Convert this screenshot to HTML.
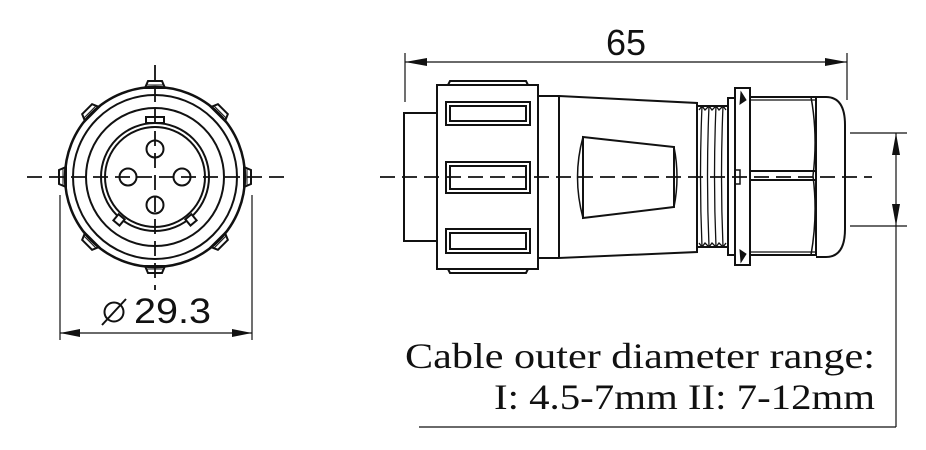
<!DOCTYPE html>
<html><head><meta charset="utf-8"><style>
html,body{margin:0;padding:0;background:#fff;}
svg{display:block;}
</style></head><body>
<svg width="926" height="450" viewBox="0 0 926 450" xmlns="http://www.w3.org/2000/svg">
<defs>
<g id="bump"><path d="M-10,-89 L-7,-96 L7,-96 L10,-89 Z" fill="#fff" stroke="#111" stroke-width="2"/><line x1="-8" y1="-92" x2="8" y2="-92" stroke="#111" stroke-width="1"/></g>
</defs>
<g fill="none" stroke="#111" stroke-width="2">
<!-- LEFT VIEW -->
<g transform="translate(155,177)">
 <g><use href="#bump"/><use href="#bump" transform="rotate(45)"/><use href="#bump" transform="rotate(90)"/><use href="#bump" transform="rotate(135)"/><use href="#bump" transform="rotate(180)"/><use href="#bump" transform="rotate(225)"/><use href="#bump" transform="rotate(270)"/><use href="#bump" transform="rotate(315)"/></g>
 <circle r="90" stroke-width="2.5"/>
 <circle r="82"/>
 <circle r="69"/>
 <circle r="54"/>
 <circle r="50"/>
 <rect x="-9" y="-60" width="18" height="6" fill="#fff"/>
 <rect x="-4" y="-3" width="8" height="8" transform="rotate(-40) translate(0,55)" fill="#fff"/>
 <rect x="-4" y="-3" width="8" height="8" transform="rotate(40) translate(0,55)" fill="#fff"/>
 <circle cx="0" cy="-28" r="8.5"/>
 <circle cx="0" cy="28" r="8.5"/>
 <circle cx="-27" cy="0" r="8.5"/>
 <circle cx="27" cy="0" r="8.5"/>
</g>
<line x1="27" y1="177" x2="285" y2="177" stroke-dasharray="15,7" stroke-width="1.8"/>
<line x1="155" y1="65" x2="155" y2="290" stroke-dasharray="15,7" stroke-width="1.8"/>
<line x1="60" y1="195" x2="60" y2="340" stroke-width="1.2"/>
<line x1="252" y1="195" x2="252" y2="340" stroke-width="1.2"/>
<line x1="60" y1="333" x2="252" y2="333" stroke-width="1.2"/>
<!-- diameter symbol -->
<circle cx="114" cy="312" r="9.5" stroke-width="2"/>
<line x1="102" y1="325" x2="126" y2="299" stroke-width="2"/>

<!-- RIGHT VIEW -->
<line x1="405" y1="53" x2="405" y2="102" stroke-width="1.2"/>
<line x1="847" y1="53" x2="847" y2="100" stroke-width="1.2"/>
<line x1="405" y1="62" x2="847" y2="62" stroke-width="1.2"/>

<rect x="404" y="113" width="33" height="128"/>
<path d="M448,85 L450,81 L526,81 L528,85 M448,269 L450,273 L526,273 L528,269"/>
<rect x="437" y="85" width="101" height="184" fill="#fff"/>
<rect x="446" y="102" width="84" height="23"/><rect x="450" y="106" width="76" height="15"/>
<rect x="446" y="162" width="84" height="31"/><rect x="450" y="166" width="76" height="23"/>
<rect x="446" y="229" width="84" height="24"/><rect x="450" y="233" width="76" height="16"/>
<path d="M538,96 L559,96 M538,258 L559,258"/>
<path d="M559,96 L697,103 L697,252 L559,258 Z"/>
<path d="M583,137 L674,147 L674,207 L583,218 Z"/>
<path d="M583,137 Q572,177 583,218 M674,147 Q680,177 674,207" stroke-width="1.5"/>
<!-- thread -->
<path d="M697,106 L728,106 M697,247 L728,247"/>
<path d="M702,106 q-3,70 0,141 M709,106 q-3,70 0,141 M716,106 q-3,70 0,141 M723,106 q-3,70 0,141" stroke-width="1.3"/>
<path d="M699,110 l3,-4 l3,4 l4,-4 l3,4 l4,-4 l3,4 l4,-4 l3,4 M699,243 l3,4 l3,-4 l4,4 l3,-4 l4,4 l3,-4 l4,4 l3,-4" stroke-width="1.3"/>
<line x1="728" y1="106" x2="728" y2="247"/>
<!-- flange -->
<rect x="728" y="98" width="7" height="157"/>
<rect x="735" y="88" width="15" height="177"/>
<path d="M741,92 L746,100 L740,104 Z M741,262 L746,254 L740,250 Z" fill="#111" stroke-width="1"/>
<path d="M735,170 L740,170 L740,184 L735,184" stroke-width="1.5"/>
<!-- hex -->
<rect x="750" y="97" width="66" height="158"/>
<line x1="750" y1="100" x2="816" y2="100" stroke-width="1.2"/>
<line x1="750" y1="252" x2="816" y2="252" stroke-width="1.2"/>
<line x1="750" y1="171" x2="816" y2="171"/>
<line x1="750" y1="180" x2="816" y2="180"/>
<path d="M811,97 Q818,135 813,176 Q818,215 811,255" stroke-width="1.5"/>
<path d="M816,97 L826,97 Q845,97 845,125 L845,229 Q845,257 826,257 L816,257"/>
<line x1="380" y1="177" x2="872" y2="177" stroke-dasharray="15,7" stroke-width="1.8"/>
<!-- right dim -->
<line x1="850" y1="133" x2="907" y2="133" stroke-width="1.2"/>
<line x1="850" y1="226" x2="907" y2="226" stroke-width="1.2"/>
<line x1="896" y1="133" x2="896" y2="427" stroke-width="1.2"/>
<line x1="419" y1="427" x2="896" y2="427" stroke-width="1.2"/>
</g>
<g fill="#111">
<path d="M60,333 L80,329 L80,337 Z M252,333 L232,329 L232,337 Z"/>
<path d="M405,62 L427,58 L427,66 Z M847,62 L825,58 L825,66 Z"/>
<path d="M896,133 L892,155 L900,155 Z M896,226 L892,204 L900,204 Z"/>
</g>
<g font-family="Liberation Sans, sans-serif" fill="#111">
<text x="626" y="55" font-size="36" text-anchor="middle">65</text>
<text x="134" y="323" font-size="35" textLength="77" lengthAdjust="spacingAndGlyphs">29.3</text>
</g>
<g font-family="Liberation Serif, serif" fill="#111" font-size="36">
<text x="405" y="368" textLength="470" lengthAdjust="spacingAndGlyphs">Cable outer  diameter range:</text>
<text x="494" y="409" textLength="381" lengthAdjust="spacingAndGlyphs">I: 4.5-7mm II: 7-12mm</text>
</g>
</svg>
</body></html>
